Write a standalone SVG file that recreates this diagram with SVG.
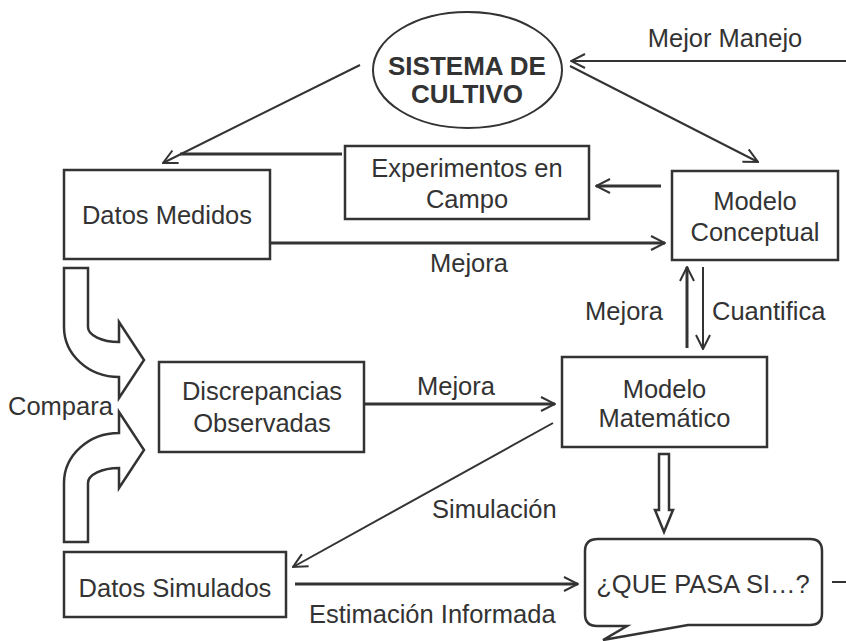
<svg xmlns="http://www.w3.org/2000/svg" width="846" height="641" viewBox="0 0 846 641">
<defs>
<style>
text{font-family:"Liberation Sans",Arial,sans-serif;font-size:25.5px;fill:#333}
.c{text-anchor:middle}
.b{font-weight:bold;font-size:26px}
.box{fill:#fff;stroke:#333;stroke-width:2.5}
.ln{fill:none;stroke:#333;stroke-width:2}
.tk{fill:none;stroke:#333;stroke-width:3}
.blk{fill:#fff;stroke:#333;stroke-width:2.5;stroke-linejoin:miter}
</style>
<marker id="ah" viewBox="0 0 16 16" markerWidth="16" markerHeight="16" refX="15" refY="8" orient="auto" markerUnits="userSpaceOnUse">
<path d="M1,1 L15,8 L1,15" fill="none" stroke="#333" stroke-width="2"/>
</marker>
</defs>
<rect width="846" height="641" fill="#fff"/>
<g id="connectors">
<line class="ln" x1="846" y1="61" x2="571" y2="61" marker-end="url(#ah)"/>
<line class="ln" x1="360" y1="65" x2="163" y2="163" marker-end="url(#ah)"/>
<line class="ln" x1="570" y1="66" x2="758" y2="162" marker-end="url(#ah)"/>
<line class="tk" x1="342" y1="154" x2="180" y2="154"/>
<line class="tk" x1="661" y1="186" x2="596" y2="186" marker-end="url(#ah)"/>
<line class="tk" x1="270" y1="243" x2="665" y2="243" marker-end="url(#ah)"/>
<line class="tk" x1="687" y1="348" x2="687" y2="267" marker-end="url(#ah)"/>
<line class="ln" x1="703" y1="267" x2="703" y2="349" marker-end="url(#ah)"/>
<line class="tk" x1="365" y1="404" x2="555" y2="404" marker-end="url(#ah)"/>
<line class="ln" x1="553" y1="423" x2="293" y2="567" marker-end="url(#ah)"/>
<line class="tk" x1="295" y1="584" x2="578" y2="584" marker-end="url(#ah)"/>
<line class="ln" x1="832" y1="582" x2="846" y2="582"/>
<path class="blk" d="M659,454 L669,454 L669,510 L673,510 L664,532 L655,510 L659,510 Z"/>
<path class="blk" d="M64,268 L88,268 L88,327 A31,15 0 0 0 119,342 L119,322 L144,360 L119,398 L119,377 A55,50 0 0 1 64,327 Z"/>
<path class="blk" d="M64,542 L88,542 L88,483 A31,15 0 0 1 119,468 L119,488 L144,450 L119,412 L119,433 A55,50 0 0 0 64,483 Z"/>
<text x="725" y="47" class="c">Mejor Manejo</text>
<text x="469" y="272" class="c">Mejora</text>
<text x="663" y="320" text-anchor="end">Mejora</text>
<text x="712" y="320">Cuantifica</text>
<text x="456" y="395" class="c">Mejora</text>
<text x="8" y="415">Compara</text>
<text x="432" y="518">Simulación</text>
<text x="309" y="623">Estimación Informada</text>
</g>
<g id="sistema">
<ellipse cx="467.5" cy="70" rx="94.5" ry="58" fill="#fff" stroke="#333" stroke-width="2"/>
<text x="467" y="75" class="c b">SISTEMA DE</text>
<text x="467" y="103" class="c b">CULTIVO</text>
</g>
<g id="datos-medidos">
<rect class="box" x="64" y="170" width="206" height="89"/>
<text x="167" y="224" class="c">Datos Medidos</text>
</g>
<g id="experimentos">
<rect class="box" x="345" y="146" width="244" height="73"/>
<text x="467" y="177" class="c">Experimentos en</text>
<text x="467" y="208" class="c">Campo</text>
</g>
<g id="modelo-conceptual">
<rect class="box" x="672" y="171" width="166" height="89"/>
<text x="755" y="210" class="c">Modelo</text>
<text x="755" y="241" class="c">Conceptual</text>
</g>
<g id="discrepancias">
<rect class="box" x="159" y="362" width="205" height="90"/>
<text x="262" y="400" class="c">Discrepancias</text>
<text x="262" y="432" class="c">Observadas</text>
</g>
<g id="modelo-matematico">
<rect class="box" x="562" y="357" width="205" height="90"/>
<text x="664.5" y="398" class="c">Modelo</text>
<text x="664.5" y="427" class="c">Matemático</text>
</g>
<g id="datos-simulados">
<rect class="box" x="64" y="552" width="222" height="65"/>
<text x="175" y="597" class="c">Datos Simulados</text>
</g>
<g id="que-pasa-si">
<path class="blk" d="M598,539 L810,539 Q822,539 822,551 L822,613 Q822,625 810,625 L688,625 L603,640 L627,626 L597,626 Q585,626 585,614 L585,551 Q585,539 598,539 Z"/>
<text x="703" y="593" class="c">¿QUE PASA SI…?</text>
</g>
</svg>
